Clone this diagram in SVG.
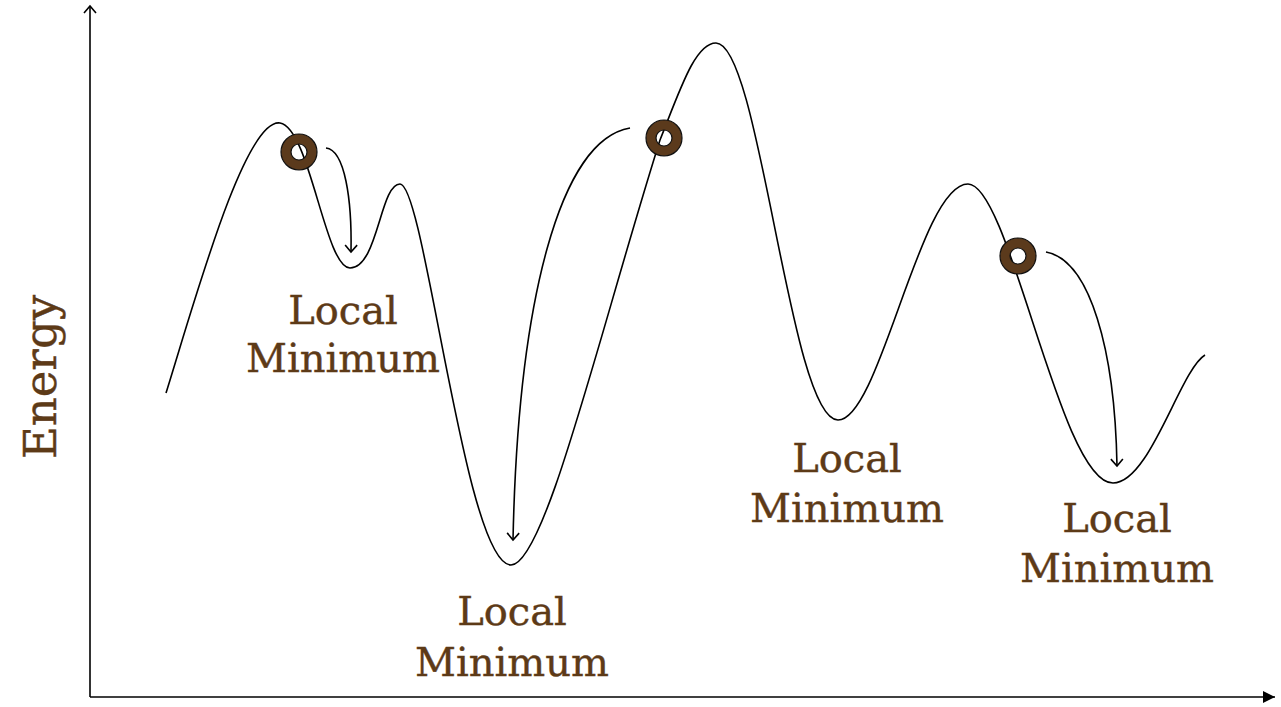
<svg xmlns="http://www.w3.org/2000/svg" width="1281" height="707" viewBox="0 0 1281 707">
<style>
.lbl{font-family:"DejaVu Serif","Liberation Serif",serif;font-size:40px;fill:#5d3a17;stroke:#5d3a17;stroke-width:0.4;text-anchor:middle}
.ln{fill:none;stroke:#000;stroke-width:1.6}
.ring{fill:none;stroke:#5b3a1c;stroke-width:10}
.edge{fill:none;stroke:#111;stroke-width:1.2}
</style>
<defs>
<marker id="open" markerWidth="16" markerHeight="16" refX="8" refY="8" orient="auto" markerUnits="userSpaceOnUse"><path d="M1,2 L8,8 L1,14" fill="none" stroke="#000" stroke-width="1.6"/></marker>
<marker id="fill" markerWidth="14" markerHeight="14" refX="12" refY="7" orient="auto" markerUnits="userSpaceOnUse"><path d="M0,1 L12,7 L0,13 Z" fill="#000"/></marker>
</defs>
<g id="axes">
<line class="ln" x1="90" y1="697" x2="90" y2="6" marker-end="url(#open)"/>
<line class="ln" x1="90" y1="697" x2="1275" y2="697" marker-end="url(#fill)"/>
</g>
<g id="landscape">
<path class="ln" d="M166,393 C195,300 245,118 280,123 C310,128 325,268 350,268 C378,268 380,184 400,184 C425,184 465,565 511,565 C545,565 600,330 660,140 C680,90 695,43 716,43 C760,43 790,420 838,420 C880,420 920,184 968,184 C1010,184 1060,483 1113,483 C1150,483 1180,370 1205,355"/>
</g>
<g id="connectors">
<path class="ln" d="M326,148 C345,150 352,200 351,252" marker-end="url(#open)"/>
<path class="ln" d="M630,128 C560,140 518,300 513,540" marker-end="url(#open)"/>
<path class="ln" d="M1046,252 C1090,260 1115,350 1117,466" marker-end="url(#open)"/>
</g>
<g id="ball1"><circle cx="299" cy="152" r="13" class="ring"/><circle cx="299" cy="152" r="18" class="edge"/><circle cx="299" cy="152" r="8" class="edge"/></g>
<g id="ball2"><circle cx="664" cy="138" r="13" class="ring"/><circle cx="664" cy="138" r="18" class="edge"/><circle cx="664" cy="138" r="8" class="edge"/></g>
<g id="ball3"><circle cx="1018" cy="256" r="13" class="ring"/><circle cx="1018" cy="256" r="18" class="edge"/><circle cx="1018" cy="256" r="8" class="edge"/></g>
<g id="labels">
<text class="lbl" style="font-size:45px" transform="translate(56,377) rotate(-90)">Energy</text>
<text class="lbl" x="343" y="324">Local</text>
<text class="lbl" x="343" y="372">Minimum</text>
<text class="lbl" x="512" y="625">Local</text>
<text class="lbl" x="512" y="676">Minimum</text>
<text class="lbl" x="847" y="472">Local</text>
<text class="lbl" x="847" y="522">Minimum</text>
<text class="lbl" x="1117" y="532">Local</text>
<text class="lbl" x="1117" y="582">Minimum</text>
</g>
</svg>
